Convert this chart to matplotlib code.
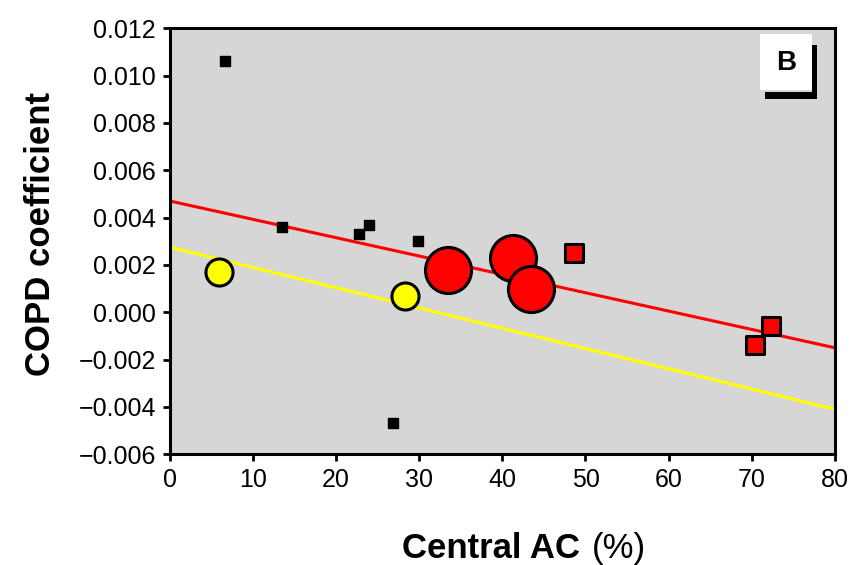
import numpy as np
import matplotlib
matplotlib.use("Agg")
from matplotlib import pyplot as plt
from matplotlib.patches import Rectangle

plt.rcParams['font.family'] = ['Liberation Sans', 'DejaVu Sans']

# Central AC (%) vs COPD coefficient, grouped by marker colour
black_x = [6.6, 13.5, 22.7, 23.9, 29.9, 26.9]
black_y = [0.0106, 0.0036, 0.0033, 0.0037, 0.0030, -0.0047]

yellow_x = [5.9, 28.3]
yellow_y = [0.0017, 0.0007]

red_big_x = [33.5, 41.3, 43.5]
red_big_y = [0.0018, 0.0023, 0.0010]

red_small_x = [48.6, 70.4, 72.3]
red_small_y = [0.0025, -0.0014, -0.0006]

# fitted lines (value at x=0 and x=80)
line_x = [0, 80]
red_line = [0.0047, -0.0015]
yellow_line = [0.00275, -0.0041]

fig = plt.figure(figsize=(8.58, 5.65), dpi=100)
ax = fig.add_axes([0.198, 0.196, 0.775, 0.754])
ax.set_facecolor('#d6d6d6')

ax.plot(line_x, red_line, color='#ff0000', lw=2.2, zorder=2, solid_capstyle='butt')
ax.plot(line_x, yellow_line, color='#ffff00', lw=2.2, zorder=2, solid_capstyle='butt')

ax.scatter(black_x, black_y, s=45, marker='s', c='black', zorder=3)
ax.scatter(yellow_x, yellow_y, s=380, marker='o', c='#ffff00',
           edgecolors='black', linewidths=2.2, zorder=3)
ax.scatter(red_small_x, red_small_y, s=170, marker='s', c='#ff0000',
           edgecolors='black', linewidths=2.2, zorder=3)
ax.scatter(red_big_x, red_big_y, s=1100, marker='o', c='#ff0000',
           edgecolors='black', linewidths=2.2, zorder=3)

ax.set_xlim(0, 80)
ax.set_ylim(-0.006, 0.012)
ax.set_xticks(np.arange(0, 81, 10))
ax.set_yticks(np.arange(-0.006, 0.0121, 0.002))
ax.set_yticklabels(['\u22120.006', '\u22120.004', '\u22120.002', '0.000', '0.002',
                    '0.004', '0.006', '0.008', '0.010', '0.012'])

for side in ['left', 'right', 'top', 'bottom']:
    ax.spines[side].set_linewidth(2.2)
    ax.spines[side].set_color('black')
ax.tick_params(direction='out', length=5, width=2, labelsize=18, pad=5)

fig.text(0.047, 0.585, 'COPD coefficient', rotation=90, ha='center', va='center',
         fontsize=25, fontweight='bold')
fig.text(0.676, 0.03, 'Central AC', ha='right', va='center',
         fontsize=25, fontweight='bold')
fig.text(0.690, 0.03, '(%)', ha='left', va='center', fontsize=25)

# panel letter box with shadow
ax.add_patch(Rectangle((0.895, 0.833), 0.078, 0.017, transform=ax.transAxes,
                       fc='black', ec='none', zorder=5, clip_on=False))
ax.add_patch(Rectangle((0.965, 0.833), 0.008, 0.127, transform=ax.transAxes,
                       fc='black', ec='none', zorder=5, clip_on=False))
ax.add_patch(Rectangle((0.887, 0.854), 0.078, 0.132, transform=ax.transAxes,
                       fc='white', ec='none', zorder=6))
ax.text(0.926, 0.918, 'B', transform=ax.transAxes, ha='center', va='center',
        fontsize=20, fontweight='bold', zorder=7)

fig.savefig('out.png', dpi=100)
